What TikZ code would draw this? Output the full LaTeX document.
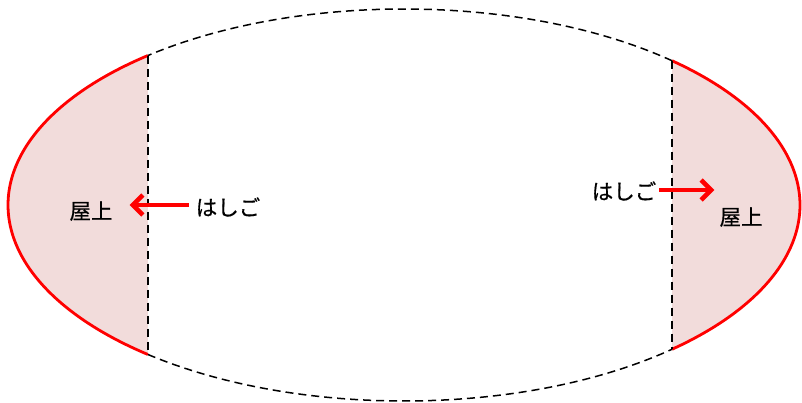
\documentclass[tikz,border=0pt]{standalone}
\usepackage{fontspec}
\newfontfamily\jpfont[FakeBold=0.6]{Noto Sans CJK JP}
\usepackage{tikz}
\usetikzlibrary{arrows.meta}
\tikzstyle{roof}=[
        fill={rgb,255:red,242;green,220;blue,219}
]
\tikzstyle{rim}=[
        draw=red,
        line width=2.8pt
]
\tikzstyle{wall}=[
        draw=black,
        line width=1.5pt,
        dash pattern=on 8pt off 5pt
]
\tikzstyle{ladder}=[
        draw=red,
        line width=4.5pt,
        -{Straight Barb[length=10pt,width=20pt]}
]
\tikzstyle{label}=[
        font=\jpfont\fontsize{21.5}{24}\selectfont,
        inner sep=3pt
]

\begin{document}
\begin{tikzpicture}[x=1pt,y=1pt]
                        \useasboundingbox (0,0) rectangle (802,402);
                        \coordinate (c) at (404,197);

                        % roof caps
                        \fill[roof] ([shift={(c)}]130.3:396pt and 196pt) arc[start angle=130.3, end angle=229.7, x radius=396pt, y radius=196pt] -- cycle;
                        \fill[roof] ([shift={(c)}]-47.4:396pt and 196pt) arc[start angle=-47.4, end angle=47.4, x radius=396pt, y radius=196pt] -- cycle;
                        \draw[rim] ([shift={(c)}]130.3:396pt and 196pt) arc[start angle=130.3, end angle=229.7, x radius=396pt, y radius=196pt];
                        \draw[rim] ([shift={(c)}]-47.4:396pt and 196pt) arc[start angle=-47.4, end angle=47.4, x radius=396pt, y radius=196pt];

                        % dashed outline
                        \draw[wall] ([shift={(c)}]47.4:396pt and 196pt) arc[start angle=47.4, end angle=130.3, x radius=396pt, y radius=196pt];
                        \draw[wall] ([shift={(c)}]229.7:396pt and 196pt) arc[start angle=229.7, end angle=312.6, x radius=396pt, y radius=196pt];
                        \draw[wall] ([shift={(c)}]130.3:396pt and 196pt) -- ([shift={(c)}]229.7:396pt and 196pt);
                        \draw[wall] ([shift={(c)}]47.4:396pt and 196pt) -- ([shift={(c)}]-47.4:396pt and 196pt);

                        \node[label] (okujoL) at (91,191) {屋上};
                        \node[label] (hashigoL) at (228,195) {はしご};
                        \node[label] (hashigoR) at (624,211) {はしご};
                        \node[label] (okujoR) at (741,185) {屋上};

                        \draw[ladder, shorten <=4pt, shorten >=14pt] ([yshift=2pt]hashigoL.west) -- ([yshift=2pt]hashigoL.west -| okujoL.east);
                        \draw[ladder, shorten >=2pt] ([yshift=1pt]hashigoR.east) -- ([yshift=1pt]hashigoR.east -| okujoR.west);
                    \end{tikzpicture}
\end{document}
